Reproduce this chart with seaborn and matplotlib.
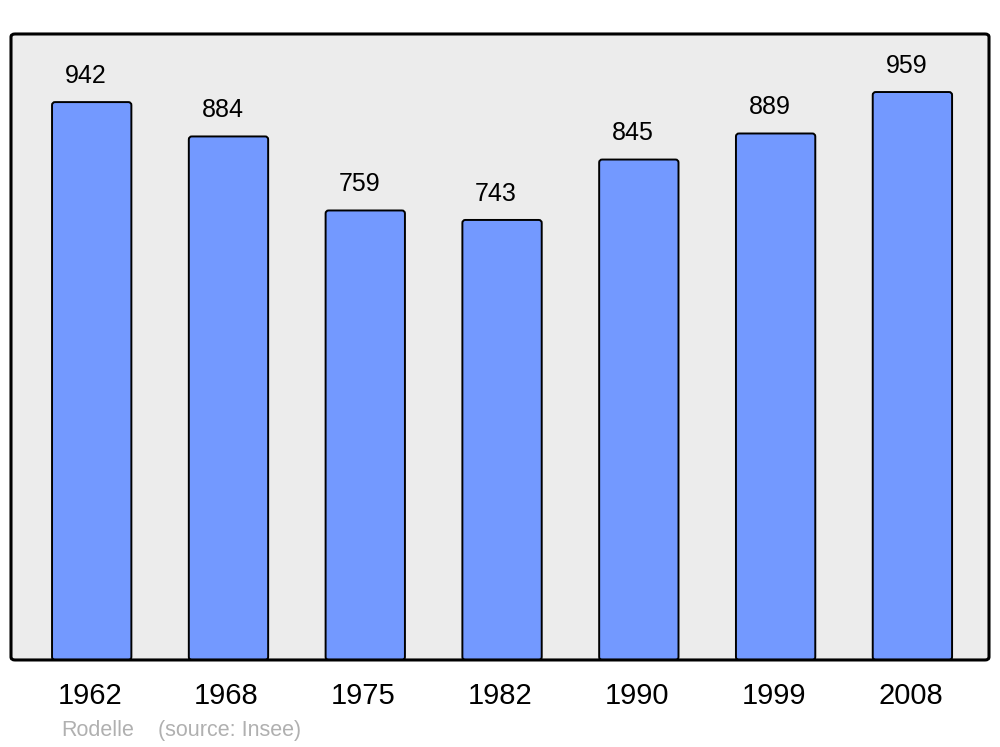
import matplotlib
matplotlib.use("Agg")
import matplotlib.pyplot as plt
import matplotlib.transforms as mtransforms
import seaborn as sns
import pandas as pd
from matplotlib.patches import FancyBboxPatch

years = ["1962", "1968", "1975", "1982", "1990", "1999", "2008"]
population = [942, 884, 759, 743, 845, 889, 959]
commune = "Rodelle"
source = "(source: Insee)"

sns.set_theme(style="white")
plt.rcParams["font.family"] = ["Liberation Sans", "DejaVu Sans"]

df = pd.DataFrame({"year": years, "pop": population})

fig = plt.figure(figsize=(10, 7.47), dpi=100)
ax = fig.add_axes([0.011, 0.1165, 0.978, 0.838])
ax.set_facecolor("none")

sns.barplot(data=df, x="year", y="pop", color="#7399ff", saturation=1,
            width=0.58, edgecolor="black", linewidth=1.4, ax=ax)
ax.set_xlim(-0.59, 6.56)
ax.set_ylim(0, 1057)

# rounded bar corners, rebuilt from the bars seaborn drew
aspect = (1057 / 626) / (7.15 / 978)
for p in list(ax.patches):
    x, y = p.get_x(), p.get_y()
    w, h = p.get_width(), p.get_height()
    rb = FancyBboxPatch((x, y), w, h, boxstyle="round,pad=0,rounding_size=0.022",
                        mutation_aspect=aspect, facecolor=p.get_facecolor(),
                        edgecolor="black", linewidth=1.4, zorder=2)
    p.remove()
    ax.add_patch(rb)
    ax.annotate(f"{int(h)}", (x + w / 2, h), xytext=(-4.3, 18.8), textcoords="offset points",
                ha="center", va="center", fontsize=18, color="black")

for s in ax.spines.values():
    s.set_visible(False)
ax.set_yticks([])
ax.set_xlabel("")
ax.set_ylabel("")
ax.tick_params(axis="x", length=0, pad=16, labelsize=21, colors="black")
shift = mtransforms.ScaledTranslation(-2 / 100, 0, fig.dpi_scale_trans)
for lab in ax.get_xticklabels():
    lab.set_transform(lab.get_transform() + shift)

# framed background with rounded corners
bg = FancyBboxPatch((0.011, 0.1165), 0.978, 0.838, boxstyle="round,pad=0,rounding_size=0.004",
                    transform=fig.transFigure, facecolor="#ececec", edgecolor="none", zorder=-1)
frame = FancyBboxPatch((0.011, 0.1165), 0.978, 0.838, boxstyle="round,pad=0,rounding_size=0.004",
                       transform=fig.transFigure, facecolor="none", edgecolor="black",
                       linewidth=2.2, zorder=10)
fig.patches.extend([bg, frame])

fig.text(0.061, 0.0215, commune, fontsize=15.5, color="#b0b0b0", ha="left", va="center")
fig.text(0.158, 0.0215, source, fontsize=15.5, color="#b0b0b0", ha="left", va="center")

fig.savefig("out.png", dpi=100)
